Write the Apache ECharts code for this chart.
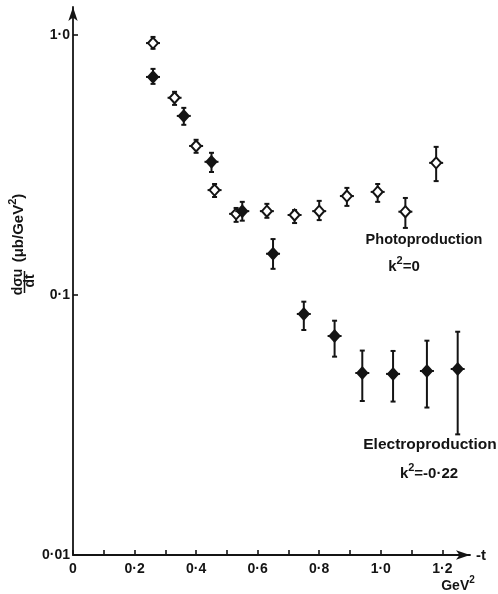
<!DOCTYPE html>
<html>
<head>
<meta charset="utf-8">
<script src="https://cdn.jsdelivr.net/npm/echarts@6/dist/echarts.min.js"></script>
<style>
  html, body { margin: 0; padding: 0; background: #fff; }
  #chart { width: 498px; height: 594px; }
</style>
</head>
<body>
<div id="chart"></div>
<script>
// Photoproduction, k^2 = 0 (open markers)
const tPhoto   = [0.26, 0.33, 0.40, 0.46, 0.53, 0.63, 0.72, 0.80, 0.89, 0.99, 1.08, 1.18];
const sigPhoto = [0.93, 0.573, 0.374, 0.253, 0.205, 0.210, 0.203, 0.210, 0.240, 0.249, 0.209, 0.322];
const hiPhoto  = [0.982, 0.604, 0.395, 0.267, 0.216, 0.224, 0.212, 0.230, 0.258, 0.267, 0.236, 0.371];
const loPhoto  = [0.884, 0.538, 0.352, 0.238, 0.191, 0.198, 0.189, 0.194, 0.220, 0.228, 0.181, 0.274];

// Electroproduction, k^2 = -0.22 (filled markers)
const tElectro   = [0.26, 0.36, 0.45, 0.55, 0.65, 0.75, 0.85, 0.94, 1.04, 1.15, 1.25];
const sigElectro = [0.689, 0.488, 0.325, 0.210, 0.144, 0.0845, 0.0695, 0.0501, 0.0497, 0.0510, 0.0519];
const hiElectro  = [0.740, 0.524, 0.352, 0.228, 0.164, 0.0942, 0.0796, 0.0611, 0.0609, 0.0667, 0.0722];
const loElectro  = [0.648, 0.451, 0.297, 0.193, 0.126, 0.0733, 0.0579, 0.0391, 0.0389, 0.0369, 0.0291];

// Axis ticks and labels
const xTicks  = [0, 0.1, 0.2, 0.3, 0.4, 0.5, 0.6, 0.7, 0.8, 0.9, 1.0, 1.1, 1.2];
const xLabels = [0, 0.2, 0.4, 0.6, 0.8, 1.0, 1.2];
const yTicks  = [0.01, 0.1, 1];

const INK = '#141414';
const FONT = 'Liberation Sans';

function rows(t, s, lo, hi) {
  return t.map((v, i) => [v, s[i], lo[i], hi[i]]);
}

function dotted(v, digits) {
  return v.toFixed(digits).replace('.', '\u00b7');
}

function pointRenderer(filled) {
  return function (params, api) {
    const x = api.value(0);
    const p = api.coord([x, api.value(1)]);
    const lo = api.coord([x, api.value(2)]);
    const hi = api.coord([x, api.value(3)]);
    const lineStyle = { stroke: INK, lineWidth: 2 };
    const cap = 2.5, arm = 7, dw = 5, dh = 5.5;
    return {
      type: 'group',
      children: [
        { type: 'line', shape: { x1: p[0], y1: hi[1], x2: p[0], y2: lo[1] }, style: lineStyle },
        { type: 'line', shape: { x1: p[0] - cap, y1: hi[1], x2: p[0] + cap, y2: hi[1] }, style: lineStyle },
        { type: 'line', shape: { x1: p[0] - cap, y1: lo[1], x2: p[0] + cap, y2: lo[1] }, style: lineStyle },
        { type: 'line', shape: { x1: p[0] - arm, y1: p[1], x2: p[0] + arm, y2: p[1] }, style: lineStyle },
        {
          type: 'polygon',
          shape: { points: [[p[0], p[1] - dh], [p[0] + dw, p[1]], [p[0], p[1] + dh], [p[0] - dw, p[1]]] },
          style: { fill: filled ? INK : '#fff', stroke: INK, lineWidth: 2 }
        }
      ]
    };
  };
}

// Text with a raised "2" exponent
function supText(x, y, pre, post, size, rotation) {
  return {
    type: 'text', x: x, y: y, rotation: rotation || 0,
    style: {
      text: '{a|' + pre + '}{s|2}{a|' + post + '}',
      align: 'center', verticalAlign: 'middle',
      rich: {
        a: { fontFamily: FONT, fontWeight: 'bold', fontSize: size, fill: INK, lineHeight: size + 4, verticalAlign: 'bottom' },
        s: { fontFamily: FONT, fontWeight: 'bold', fontSize: Math.round(size * 0.72), fill: INK, lineHeight: size + 4, verticalAlign: 'top' }
      }
    }
  };
}

const chart = echarts.init(document.getElementById('chart'), null, { renderer: 'canvas' });

const labelFont = { fontFamily: FONT, fontSize: 14, fontWeight: 'bold', color: INK };

chart.setOption({
  backgroundColor: '#fff',
  animation: false,
  grid: { left: 73, right: 28, top: 7, bottom: 39 },
  xAxis: {
    type: 'value',
    min: 0,
    max: 1.29,
    axisLine: {
      onZero: false,
      symbol: ['none', 'arrow'],
      symbolSize: [7, 14],
      lineStyle: { color: INK, width: 1.8 }
    },
    axisTick: {
      inside: true,
      length: 5,
      customValues: xTicks,
      lineStyle: { color: INK, width: 1.6 }
    },
    axisLabel: {
      customValues: xLabels,
      margin: 7,
      formatter: v => (v === 0 ? '0' : dotted(v, 1)),
      ...labelFont
    },
    splitLine: { show: false }
  },
  yAxis: {
    type: 'log',
    logBase: 10,
    min: 0.01,
    max: 1.28,
    axisLine: {
      symbol: ['none', 'arrow'],
      symbolSize: [7, 14],
      lineStyle: { color: INK, width: 1.8 }
    },
    axisTick: {
      inside: true,
      length: 5,
      customValues: yTicks,
      lineStyle: { color: INK, width: 1.6 }
    },
    axisLabel: {
      customValues: yTicks,
      margin: 3,
      formatter: v => (v >= 1 ? '1\u00b70' : v >= 0.1 ? '0\u00b71' : '0\u00b701'),
      ...labelFont
    },
    splitLine: { show: false },
    minorTick: { show: false }
  },
  graphic: [
    // y-axis title, drawn bottom-to-top
    { type: 'text', x: 18, y: 282, rotation: Math.PI / 2,
      style: { text: 'd\u03c3u', font: 'bold 14px ' + FONT, fill: INK, align: 'center', verticalAlign: 'middle' } },
    { type: 'line', shape: { x1: 24.5, y1: 271, x2: 24.5, y2: 293 }, style: { stroke: INK, lineWidth: 1.5 } },
    { type: 'text', x: 30, y: 281, rotation: Math.PI / 2,
      style: { text: 'dt', font: 'bold 14px ' + FONT, fill: INK, align: 'center', verticalAlign: 'middle' } },
    supText(17, 228, '(\u03bcb/GeV', ')', 15, Math.PI / 2),
    // x-axis title
    { type: 'text', x: 476, y: 556,
      style: { text: '-t', font: 'bold 15px ' + FONT, fill: INK, align: 'left', verticalAlign: 'middle' } },
    supText(458, 584, 'GeV', '', 14),
    // series annotations
    { type: 'text', x: 424, y: 240,
      style: { text: 'Photoproduction', font: 'bold 14.5px ' + FONT, fill: INK, align: 'center', verticalAlign: 'middle' } },
    supText(404, 265, 'k', '=0', 15),
    { type: 'text', x: 430, y: 445,
      style: { text: 'Electroproduction', font: 'bold 15.5px ' + FONT, fill: INK, align: 'center', verticalAlign: 'middle' } },
    supText(429, 472, 'k', '=-0\u00b722', 15)
  ],
  series: [
    {
      name: 'Photoproduction',
      type: 'custom',
      renderItem: pointRenderer(false),
      encode: { x: 0, y: [1, 2, 3] },
      data: rows(tPhoto, sigPhoto, loPhoto, hiPhoto),
      clip: false,
      z: 3
    },
    {
      name: 'Electroproduction',
      type: 'custom',
      renderItem: pointRenderer(true),
      encode: { x: 0, y: [1, 2, 3] },
      data: rows(tElectro, sigElectro, loElectro, hiElectro),
      clip: false,
      z: 4
    }
  ]
});
</script>
</body>
</html>
